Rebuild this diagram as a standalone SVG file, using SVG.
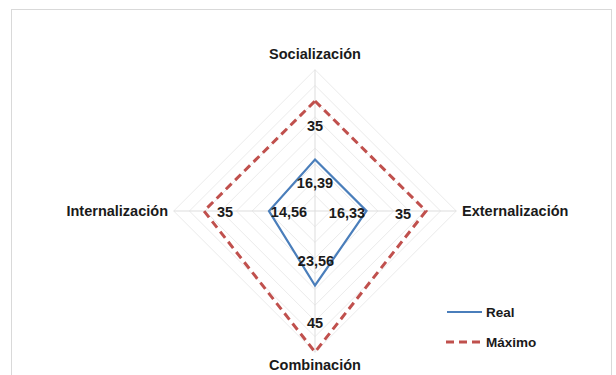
<svg xmlns="http://www.w3.org/2000/svg" width="616" height="375" viewBox="0 0 616 375">
<style>
.t{font-family:"Liberation Sans",Arial,sans-serif;font-weight:bold;fill:#1a1a1a}
.ax{font-size:14.5px}
.dl{font-size:14.5px;text-anchor:middle}
.grid{fill:none;stroke:#ebebeb;stroke-width:1}
.spoke{stroke:#dddddd;stroke-width:1}
.real{fill:none;stroke:#4a7ebb;stroke-width:2.2;stroke-linejoin:miter}
.max{fill:none;stroke:#c0504d;stroke-width:3;stroke-dasharray:8,5}
</style>
<rect x="0" y="0" width="616" height="375" fill="#ffffff"/>
<rect x="11.5" y="9.5" width="600" height="380" fill="none" stroke="#d9d9d9" stroke-width="1"/>
<g id="grid">
<polygon class="grid" points="315,195.3 330.7,211 315,226.7 299.3,211"/>
<polygon class="grid" points="315,179.6 346.4,211 315,242.4 283.6,211"/>
<polygon class="grid" points="315,163.9 362.1,211 315,258.1 267.9,211"/>
<polygon class="grid" points="315,148.2 377.8,211 315,273.8 252.2,211"/>
<polygon class="grid" points="315,132.5 393.5,211 315,289.5 236.5,211"/>
<polygon class="grid" points="315,116.8 409.2,211 315,305.2 220.8,211"/>
<polygon class="grid" points="315,101.1 424.9,211 315,320.9 205.1,211"/>
<polygon class="grid" points="315,85.4 440.6,211 315,336.6 189.4,211"/>
<polygon class="grid" points="315,69.7 456.3,211 315,352.3 173.7,211"/>
<line class="spoke" x1="315" y1="211" x2="315" y2="69.7"/>
<line class="spoke" x1="315" y1="211" x2="456.3" y2="211"/>
<line class="spoke" x1="315" y1="211" x2="315" y2="352.3"/>
<line class="spoke" x1="315" y1="211" x2="173.7" y2="211"/>
</g>
<g id="connectors">
<polygon id="series-maximo" class="max" points="315,101 426,211 315,352 204,211"/>
<polygon id="series-real" class="real" points="315,159.5 366.5,211 315,285.5 269,211"/>
</g>
<g id="axis-socializacion"><text class="t ax" x="315" y="59" text-anchor="middle">Socialización</text></g>
<g id="axis-externalizacion"><text class="t ax" x="462" y="216">Externalización</text></g>
<g id="axis-combinacion"><text class="t ax" x="315" y="370" text-anchor="middle">Combinación</text></g>
<g id="axis-internalizacion"><text class="t ax" x="168" y="216" text-anchor="end">Internalización</text></g>
<g id="labels-maximo">
<text class="t dl" x="315" y="131">35</text>
<text class="t dl" x="403" y="219">35</text>
<text class="t dl" x="315" y="328">45</text>
<text class="t dl" x="225" y="217">35</text>
</g>
<g id="labels-real">
<text class="t dl" x="315" y="188">16,39</text>
<text class="t dl" x="347" y="218">16,33</text>
<text class="t dl" x="316" y="266">23,56</text>
<text class="t dl" x="289" y="217">14,56</text>
</g>
<g id="legend">
<line x1="447" y1="312" x2="482" y2="312" stroke="#4a7ebb" stroke-width="2.2"/>
<text class="t" x="486" y="316.5" font-size="13.5">Real</text>
<line x1="446" y1="342" x2="482" y2="342" stroke="#c0504d" stroke-width="3" stroke-dasharray="8,5"/>
<text class="t" x="486" y="346.5" font-size="13.5">Máximo</text>
</g>
</svg>
